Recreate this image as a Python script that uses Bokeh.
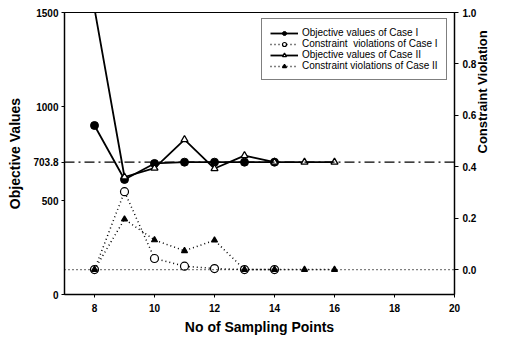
import math
from bokeh.plotting import figure
from bokeh.models import Range1d, LinearAxis, FixedTicker, Span, Legend, LegendItem
from bokeh.embed import file_html
from bokeh.resources import INLINE

# ---- data ----
x_case1 = [8, 9, 10, 11, 12, 13, 14]
obj_case1 = [899, 612, 697, 704, 704, 704, 704]
cv_case1 = [0.0, 0.303, 0.043, 0.013, 0.004, 0.0, 0.0]

x_case2 = [8, 9, 10, 11, 12, 13, 14, 15, 16]
obj_case2 = [1520, 625, 672, 824, 670, 739, 704, 704, 704]
cv_case2 = [0.0, 0.196, 0.115, 0.073, 0.114, 0.0, 0.0, 0.0, 0.0]

optimum_value = 703.8
cv_zero = 0.0

x_ticks = [8, 10, 12, 14, 16, 18, 20]
x_tick_labels = ["8", "10", "12", "14", "16", "18", "20"]
left_ticks = [0, 500, 703.8, 1000, 1500]
left_tick_labels = ["0", "500", "703.8", "1000", "1500"]
right_ticks = [0.0, 0.2, 0.4, 0.6, 0.8, 1.0]
right_tick_labels = ["0.0", "0.2", "0.4", "0.6", "0.8", "1.0"]

x_title = "No of Sampling Points"
y_title = "Objective Values"
y2_title = "Constraint Violation"

legend_labels = [
    "Objective values of Case I",
    "Constraint  violations of Case I",
    "Objective values of Case II",
    "Constraint violations of Case II",
]

FONT = "Liberation Sans"
X_MIN, X_MAX = 7, 20
Y2_MIN, Y2_MAX = -0.097, 1.0

p = figure(width=500, height=337, output_backend="svg", toolbar_location=None,
           title=None,
           x_range=Range1d(X_MIN, X_MAX), y_range=Range1d(0, 1500),
           min_border_left=64, min_border_right=37, min_border_top=12,
           min_border_bottom=43, background_fill_color="white",
           border_fill_color="white")
p.extra_y_ranges = {"cv": Range1d(Y2_MIN, Y2_MAX)}
p.grid.visible = False
p.outline_line_color = "black"
p.outline_line_width = 1.2


def style_axis(ax, ticks, labels, tick_out, label_standoff, axis_standoff):
    ax.ticker = FixedTicker(ticks=ticks)
    ax.major_label_overrides = {t: l for t, l in zip(ticks, labels)}
    ax.major_label_text_font = FONT
    ax.major_label_text_font_style = "bold"
    ax.major_label_text_font_size = "10px"
    ax.major_label_text_color = "black"
    ax.axis_label_text_font = FONT
    ax.axis_label_text_font_style = "bold"
    ax.axis_label_text_font_size = "14px"
    ax.axis_label_text_color = "black"
    ax.axis_line_color = "black"
    ax.axis_line_width = 1.3
    ax.major_tick_line_color = "black"
    ax.major_tick_in = 0
    ax.major_tick_out = tick_out
    ax.minor_tick_line_color = None
    ax.major_label_standoff = label_standoff
    ax.axis_label_standoff = axis_standoff


p.xaxis.axis_label = x_title
style_axis(p.xaxis[0], x_ticks, x_tick_labels, 3, 6, 4)
p.yaxis.axis_label = y_title
style_axis(p.yaxis[0], left_ticks, left_tick_labels, 3, 3, 7)

right_axis = LinearAxis(y_range_name="cv", axis_label=y2_title)
style_axis(right_axis, right_ticks, right_tick_labels, 4, 4, 3)
right_axis.axis_label_text_font_size = "13px"
right_axis.axis_label_orientation = math.pi / 2
p.add_layout(right_axis, "right")

# reference lines
p.add_layout(Span(location=optimum_value, dimension="width", line_color="black",
                  line_width=1.2, line_dash="10 4 2 4"))
p.add_layout(Span(location=cv_zero, dimension="width", y_range_name="cv",
                  line_color="black", line_width=1.3, line_dash="1 3"))

# series
l1 = p.line(x_case1, obj_case1, line_color="black", line_width=1.8)
m1 = p.scatter(x_case1, obj_case1, marker="circle", size=8, fill_color="black",
               line_color="black")

l2 = p.line(x_case1, cv_case1, y_range_name="cv", line_color="black",
            line_width=1.5, line_dash="1 3")
m2 = p.scatter(x_case1, cv_case1, y_range_name="cv", marker="circle", size=8,
               fill_color="white", line_color="black", line_width=1.2)

l3 = p.line(x_case2, obj_case2, line_color="black", line_width=1.8)
m3 = p.scatter(x_case2, obj_case2, marker="triangle", size=7, fill_color="white",
               line_color="black", line_width=1.3)

l4 = p.line(x_case2, cv_case2, y_range_name="cv", line_color="black",
            line_width=1.5, line_dash="1 3")
m4 = p.scatter(x_case2, cv_case2, y_range_name="cv", marker="triangle", size=6,
               fill_color="black", line_color="black", line_width=1.2)

legend = Legend(items=[
    LegendItem(label=legend_labels[0], renderers=[l1, m1]),
    LegendItem(label=legend_labels[1], renderers=[l2, m2]),
    LegendItem(label=legend_labels[2], renderers=[l3, m3]),
    LegendItem(label=legend_labels[3], renderers=[l4, m4]),
], location=(197, 214))
legend.label_text_font = FONT
legend.label_text_font_size = "10px"
legend.label_text_color = "black"
legend.glyph_width = 28
legend.glyph_height = 10
legend.label_height = 10
legend.label_standoff = 4
legend.spacing = 0
legend.padding = 8
legend.margin = 0
legend.border_line_color = "black"
legend.border_line_width = 1.2
legend.background_fill_color = "white"
legend.background_fill_alpha = 1
p.add_layout(legend)

open("out.html", "w").write(file_html(p, INLINE))
